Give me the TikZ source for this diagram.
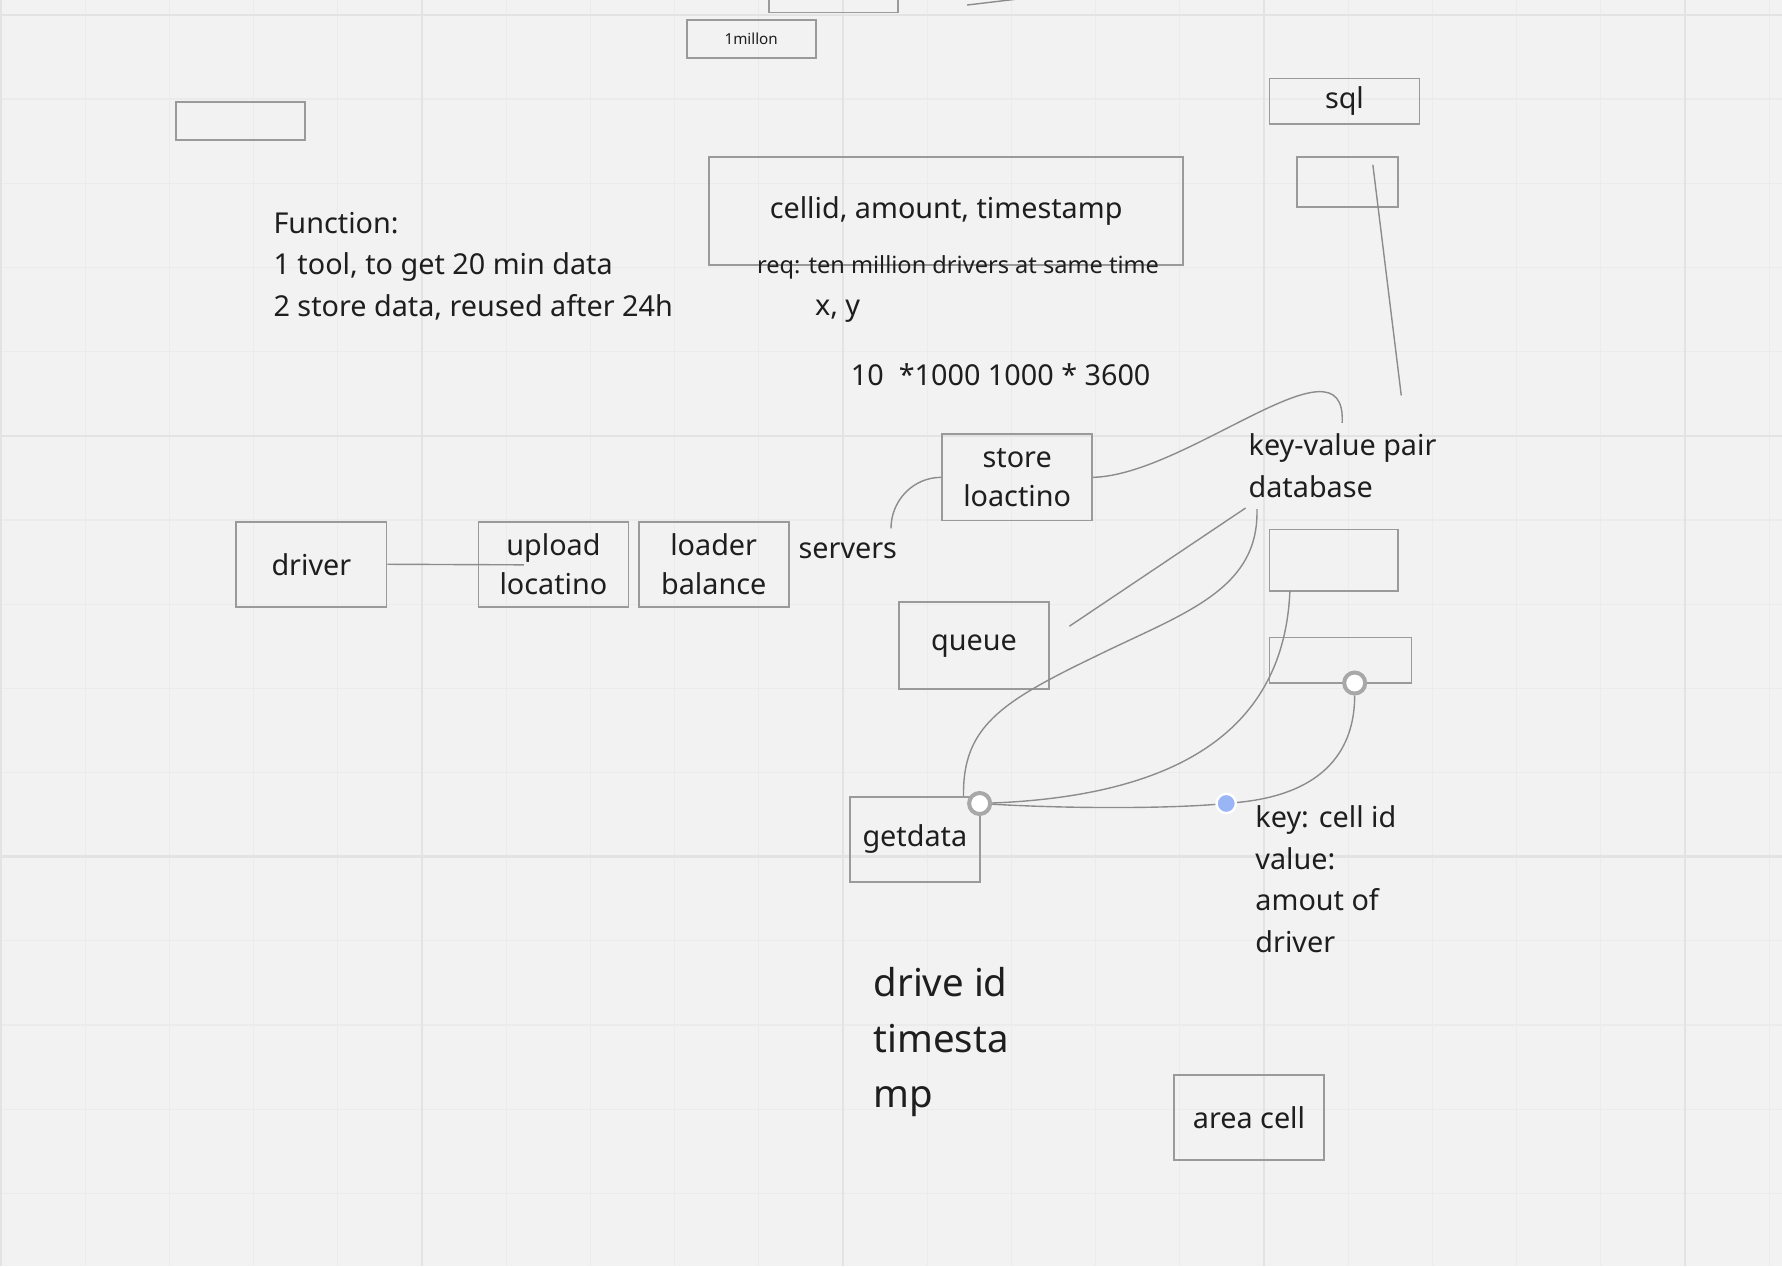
\documentclass[tikz,border=0pt]{standalone}
\usepackage{fontspec}
\setmainfont{Noto Sans}
\usetikzlibrary{positioning}
\definecolor{paper}{HTML}{F2F2F2}
\definecolor{gridthin}{HTML}{EBEBEB}
\definecolor{gridthick}{HTML}{E3E3E3}
\definecolor{edge}{HTML}{9A9A9A}
\definecolor{wire}{HTML}{8C8C8C}
\definecolor{ink}{HTML}{1E1E1E}
\definecolor{knob}{HTML}{A8A8A8}
\definecolor{dotblue}{HTML}{9AB5F5}
\tikzset{
  box/.style={draw=edge, line width=0.45pt, inner sep=0pt, align=center, text=ink,
    font=\fontsize{7.2}{9.7}\selectfont},
  conn/.style={draw=wire, line width=0.35pt},
  lbl/.style={text=ink, align=left, inner sep=0pt, font=\fontsize{7.2}{10.4}\selectfont},
  handle/.style={circle, draw=knob, line width=1pt, fill=white, inner sep=0pt, minimum size=0.185cm},
}

\begin{document}
\begin{tikzpicture}[x=0.01cm, y=-0.01cm]
  \useasboundingbox (0,0) rectangle (1568,1114);
  \clip (0,0) rectangle (1568,1114);
  \fill[paper] (0,0) rectangle (1568,1114);
  % grid
  \foreach \i in {0,...,21} \draw[gridthin, line width=0.3pt] ({1+74.08*\i},0) -- ({1+74.08*\i},1114);
  \foreach \i in {0,...,15} \draw[gridthin, line width=0.3pt] (0,{13+74.08*\i}) -- (1568,{13+74.08*\i});
  \foreach \i in {0,...,4} \draw[gridthick, line width=0.6pt] ({1+370.4*\i},0) -- ({1+370.4*\i},1114);
  \foreach \i in {0,...,3} \draw[gridthick, line width=0.6pt] (0,{13+370.4*\i}) -- (1568,{13+370.4*\i});

  % boxes
  \draw[draw=edge, line width=0.45pt] (677,-20) rectangle (790,11);
  \node[box, minimum width=1.135cm, minimum height=0.335cm, font=\fontsize{3.8}{5}\selectfont] (million) at (661,34) {1millon};
  \node[box, minimum width=1.13cm, minimum height=0.33cm] (emptyleft) at (211.5,106.5) {};
  \node[box, minimum width=4.17cm, minimum height=0.95cm] (cellinfo) at (832.5,185.5) {cellid, amount, timestamp};
  \node[box, minimum width=1.32cm, minimum height=0.40cm] (sql) at (1183,89) {sql};
  \node[box, minimum width=0.89cm, minimum height=0.44cm] (emptysql) at (1185.5,160) {};
  \node[box, minimum width=1.32cm, minimum height=0.76cm] (store) at (895,420) {store\\loactino};
  \node[box, minimum width=1.32cm, minimum height=0.75cm] (driver) at (274,496.5) {driver};
  \node[box, minimum width=1.32cm, minimum height=0.75cm] (upload) at (487,496.5) {upload\\locatino};
  \node[box, minimum width=1.32cm, minimum height=0.75cm] (loader) at (628,496.5) {loader\\balance};
  \node[box, minimum width=1.32cm, minimum height=0.76cm, text depth=0.05cm] (queue) at (857,568) {queue};
  \node[box, minimum width=1.13cm, minimum height=0.54cm] (emptykv) at (1173.5,493) {};
  \node[box, minimum width=1.25cm, minimum height=0.40cm] (emptycell) at (1179.5,581) {};
  \node[box, minimum width=1.14cm, minimum height=0.75cm] (getdata) at (805,738.5) {getdata};
  \node[box, minimum width=1.32cm, minimum height=0.75cm] (areacell) at (1099,983.5) {area cell};

  % notes
  \node[lbl, anchor=west] (function) at (240,234) {Function:\\1 tool, to get 20 min data\\2 store data, reused after 24h};
  \node[lbl, font=\fontsize{5.9}{7}\selectfont] (req) at (843,235) {req: ten million drivers at same time};
  \node[lbl] (xy) at (737,274) {x, y};
  \node[lbl, anchor=west] (calc) at (748,330) {10\ \ *1000 1000 * 3600};
  \node[lbl, anchor=west] (kvdb) at (1098,410) {key-value pair\\database};
  \node[lbl] (servers) at (746,485) {servers};
  \node[lbl, anchor=west] (keyval) at (1104,773.5) {key: cell id\\value:\\amout of\\driver};
  \node[lbl, anchor=west, font=\fontsize{9.6}{13.9}\selectfont] (driveid) at (768,917) {drive id\\timesta\\mp};

  % connectors
  \coordinate (topa) at (851,4.4);
  \coordinate (topb) at (905,-2);
  \coordinate (upin) at (461,497);
  \coordinate (srvtop) at (784,465);
  \coordinate (kvtop) at (1181,372);
  \coordinate (sqla) at (1208,145);
  \coordinate (sqlb) at (1233,348);
  \coordinate (qa) at (941,551);
  \coordinate (kva) at (1096,447);
  \coordinate (kvb) at (1106,448);
  \coordinate (cella) at (1135,520);
  \node[handle] (hget) at (862,707) {};
  \node[handle] (hcell) at (1192,601) {};
  \node[circle, fill=dotblue, draw=white, line width=0.6pt, inner sep=0pt, minimum size=0.17cm] (dot) at (1079,707) {};

  \draw[conn] (topa) -- (topb);
  \draw[conn] (driver.east) -- (upin);
  \draw[conn] (srvtop) to[out=90, in=180] (store.west);
  \draw[conn] (store.east) .. controls (1045,418) and (1185,290) .. (kvtop);
  \draw[conn] (sqla) -- (sqlb);
  \draw[conn] (qa) -- (kva);
  \draw[conn] (kvb) .. controls (1108,520) and (1040,540) .. (963,578)
    .. controls (880,618) and (847,640) .. ([xshift=-0.15cm]getdata.north east);
  \draw[conn] (cella) .. controls (1130,640) and (1040,700) .. (hget);
  \draw[conn] (hget) .. controls (950,712) and (1030,711) .. (dot)
    .. controls (1175,698) and (1192,650) .. (hcell);
\end{tikzpicture}
\end{document}
